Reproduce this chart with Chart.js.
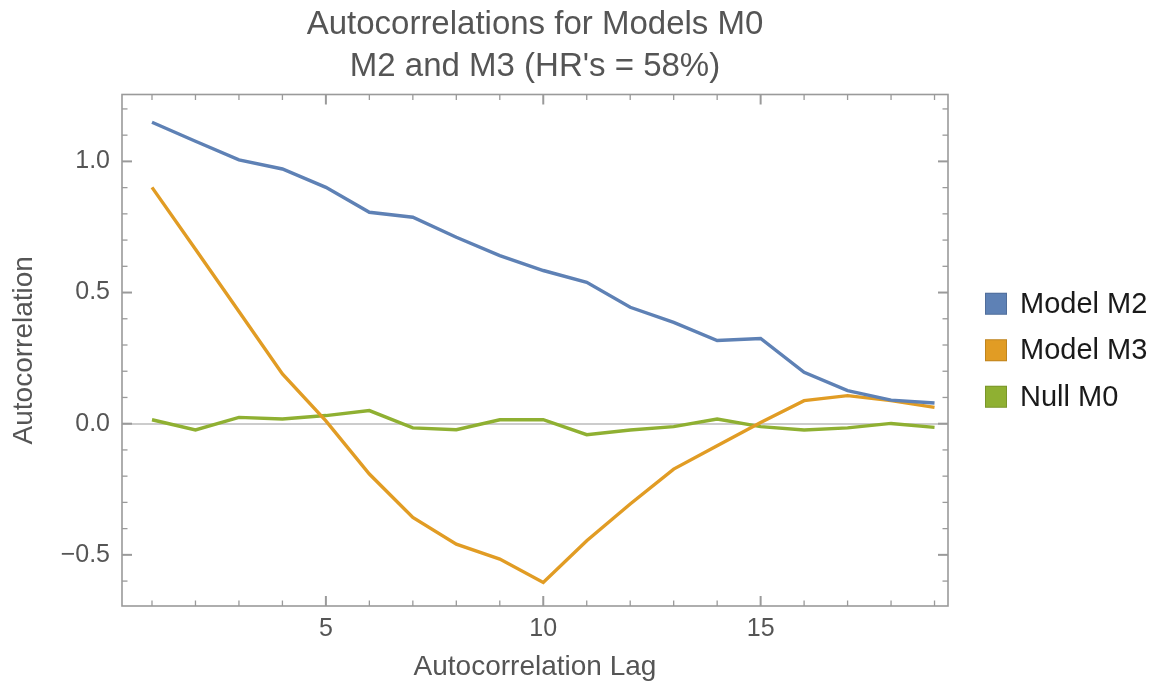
<!DOCTYPE html>
<html>
<head>
<meta charset="utf-8">
<script src="https://cdn.jsdelivr.net/npm/chart.js@4.4.1/dist/chart.umd.min.js"></script>
<style>
  html, body { margin: 0; padding: 0; background: #ffffff; }
  #wrap { width: 1157px; height: 688px; }
</style>
</head>
<body>
<div id="wrap"><canvas id="c" width="1157" height="688"></canvas></div>
<script>
// ---- data ----
const lags = [1, 2, 3, 4, 5, 6, 7, 8, 9, 10, 11, 12, 13, 14, 15, 16, 17, 18, 19];
const modelM2 = [1.149, 1.077, 1.006, 0.971, 0.901, 0.806, 0.787, 0.711, 0.641, 0.584, 0.539, 0.444, 0.386, 0.317, 0.325, 0.196, 0.126, 0.090, 0.079];
const modelM3 = [0.901, 0.665, 0.428, 0.190, 0.011, -0.192, -0.357, -0.459, -0.516, -0.605, -0.446, -0.306, -0.173, -0.084, 0.005, 0.088, 0.107, 0.088, 0.062];
const nullM0  = [0.015, -0.024, 0.024, 0.018, 0.031, 0.050, -0.016, -0.023, 0.015, 0.015, -0.042, -0.024, -0.011, 0.018, -0.011, -0.024, -0.016, 0.001, -0.014];
const seriesNames = ['Model M2', 'Model M3', 'Null M0'];
const seriesColors = ['#5e81b5', '#e19c24', '#8fb032'];
const titleLines = ['Autocorrelations for Models M0', "M2 and M3 (HR's = 58%)"];
const xAxisTitle = 'Autocorrelation Lag';
const yAxisTitle = 'Autocorrelation';
const xMajorTicks = [5, 10, 15];
const xMinorTicks = [1, 2, 3, 4, 6, 7, 8, 9, 11, 12, 13, 14, 16, 17, 18, 19];
const yMajorTicks = [-0.5, 0, 0.5, 1.0];
const yMinorTicks = [-0.6, -0.4, -0.3, -0.2, -0.1, 0.1, 0.2, 0.3, 0.4, 0.6, 0.7, 0.8, 0.9, 1.1, 1.2];

const FONT = '"Liberation Sans", Arial, Helvetica, sans-serif';
const FRAME = '#9a9a9a';

const frameTicks = {
  id: 'frameTicks',
  afterDraw(chart) {
    const { ctx, chartArea: { left, right, top, bottom }, scales: { x, y } } = chart;
    ctx.save();
    ctx.strokeStyle = FRAME;
    ctx.lineWidth = 1.6;
    ctx.strokeRect(left, top, right - left, bottom - top);
    const seg = (x1, y1, x2, y2) => { ctx.beginPath(); ctx.moveTo(x1, y1); ctx.lineTo(x2, y2); ctx.stroke(); };
    const xt = (list, len, w) => {
      ctx.lineWidth = w;
      list.forEach(v => { const p = x.getPixelForValue(v); seg(p, bottom, p, bottom - len); seg(p, top, p, top + len); });
    };
    const yt = (list, len, w) => {
      ctx.lineWidth = w;
      list.forEach(v => { const p = y.getPixelForValue(v); seg(left, p, left + len, p); seg(right, p, right - len, p); });
    };
    xt(xMinorTicks, 5.5, 1.3);
    xt(xMajorTicks, 10, 2);
    yt(yMinorTicks, 5.5, 1.3);
    yt(yMajorTicks, 10, 2);
    ctx.restore();
  }
};

const sideLegend = {
  id: 'sideLegend',
  afterDraw(chart) {
    const { ctx, chartArea } = chart;
    const midY = (chartArea.top + chartArea.bottom) / 2;
    const step = 46.5;
    ctx.save();
    ctx.font = '29px ' + FONT;
    ctx.textBaseline = 'middle';
    ctx.textAlign = 'left';
    chart.data.datasets.forEach((ds, i) => {
      const cy = midY + (i - 1) * step;
      const bx = chartArea.right + 37;
      ctx.fillStyle = ds.borderColor;
      ctx.fillRect(bx, cy - 11, 22, 22);
      ctx.strokeStyle = 'rgba(0,0,0,0.15)';
      ctx.lineWidth = 1;
      ctx.strokeRect(bx + 0.5, cy - 10.5, 21, 21);
      ctx.fillStyle = '#1a1a1a';
      ctx.fillText(ds.label, bx + 35, cy + 1);
    });
    ctx.restore();
  }
};

const makeSeries = (vals) => lags.map((l, i) => ({ x: l, y: vals[i] }));

new Chart(document.getElementById('c'), {
  type: 'line',
  data: {
    datasets: [modelM2, modelM3, nullM0].map((vals, i) => ({
      label: seriesNames[i],
      data: makeSeries(vals),
      borderColor: seriesColors[i],
      backgroundColor: seriesColors[i],
      borderWidth: 3.4,
      pointRadius: 0,
      tension: 0,
      fill: false
    }))
  },
  options: {
    responsive: false,
    devicePixelRatio: 1,
    animation: false,
    layout: { padding: { left: 0, right: 209, top: 0, bottom: 0 } },
    plugins: {
      legend: { display: false },
      tooltip: { enabled: false },
      title: {
        display: true,
        text: titleLines,
        fullSize: false,
        color: '#555555',
        font: { family: FONT, size: 33, weight: 'normal', lineHeight: '42px' },
        padding: { top: 4, bottom: 6.5 }
      }
    },
    scales: {
      x: {
        type: 'linear',
        min: 0.31,
        max: 19.31,
        afterFit: (s) => { s.height = 82; },
        border: { display: false },
        grid: { display: false, drawTicks: false },
        ticks: {
          stepSize: 5,
          includeBounds: false,
          padding: 8,
          color: '#555555',
          font: { family: FONT, size: 25 },
          maxRotation: 0,
          callback: (v) => xMajorTicks.includes(v) ? String(v) : ''
        },
        title: {
          display: true,
          text: xAxisTitle,
          color: '#555555',
          font: { family: FONT, size: 28 },
          padding: { top: 0, bottom: 4 }
        }
      },
      y: {
        type: 'linear',
        min: -0.695,
        max: 1.255,
        afterFit: (s) => { s.width = 122; },
        border: { display: false },
        grid: {
          drawTicks: false,
          lineWidth: 2,
          color: (c) => (c.tick && c.tick.value === 0) ? '#cccccc' : 'rgba(0,0,0,0)'
        },
        ticks: {
          stepSize: 0.5,
          includeBounds: false,
          padding: 12,
          color: '#555555',
          font: { family: FONT, size: 25 },
          callback: (v) => {
            if (!yMajorTicks.some(t => Math.abs(t - v) < 1e-9)) return '';
            const s = Math.abs(v).toFixed(1);
            return v < -1e-9 ? '\u2212' + s : s;
          }
        },
        title: {
          display: true,
          text: yAxisTitle,
          color: '#555555',
          font: { family: FONT, size: 28 },
          padding: { top: 7, bottom: 0 }
        }
      }
    }
  },
  plugins: [frameTicks, sideLegend]
});
</script>
</body>
</html>
